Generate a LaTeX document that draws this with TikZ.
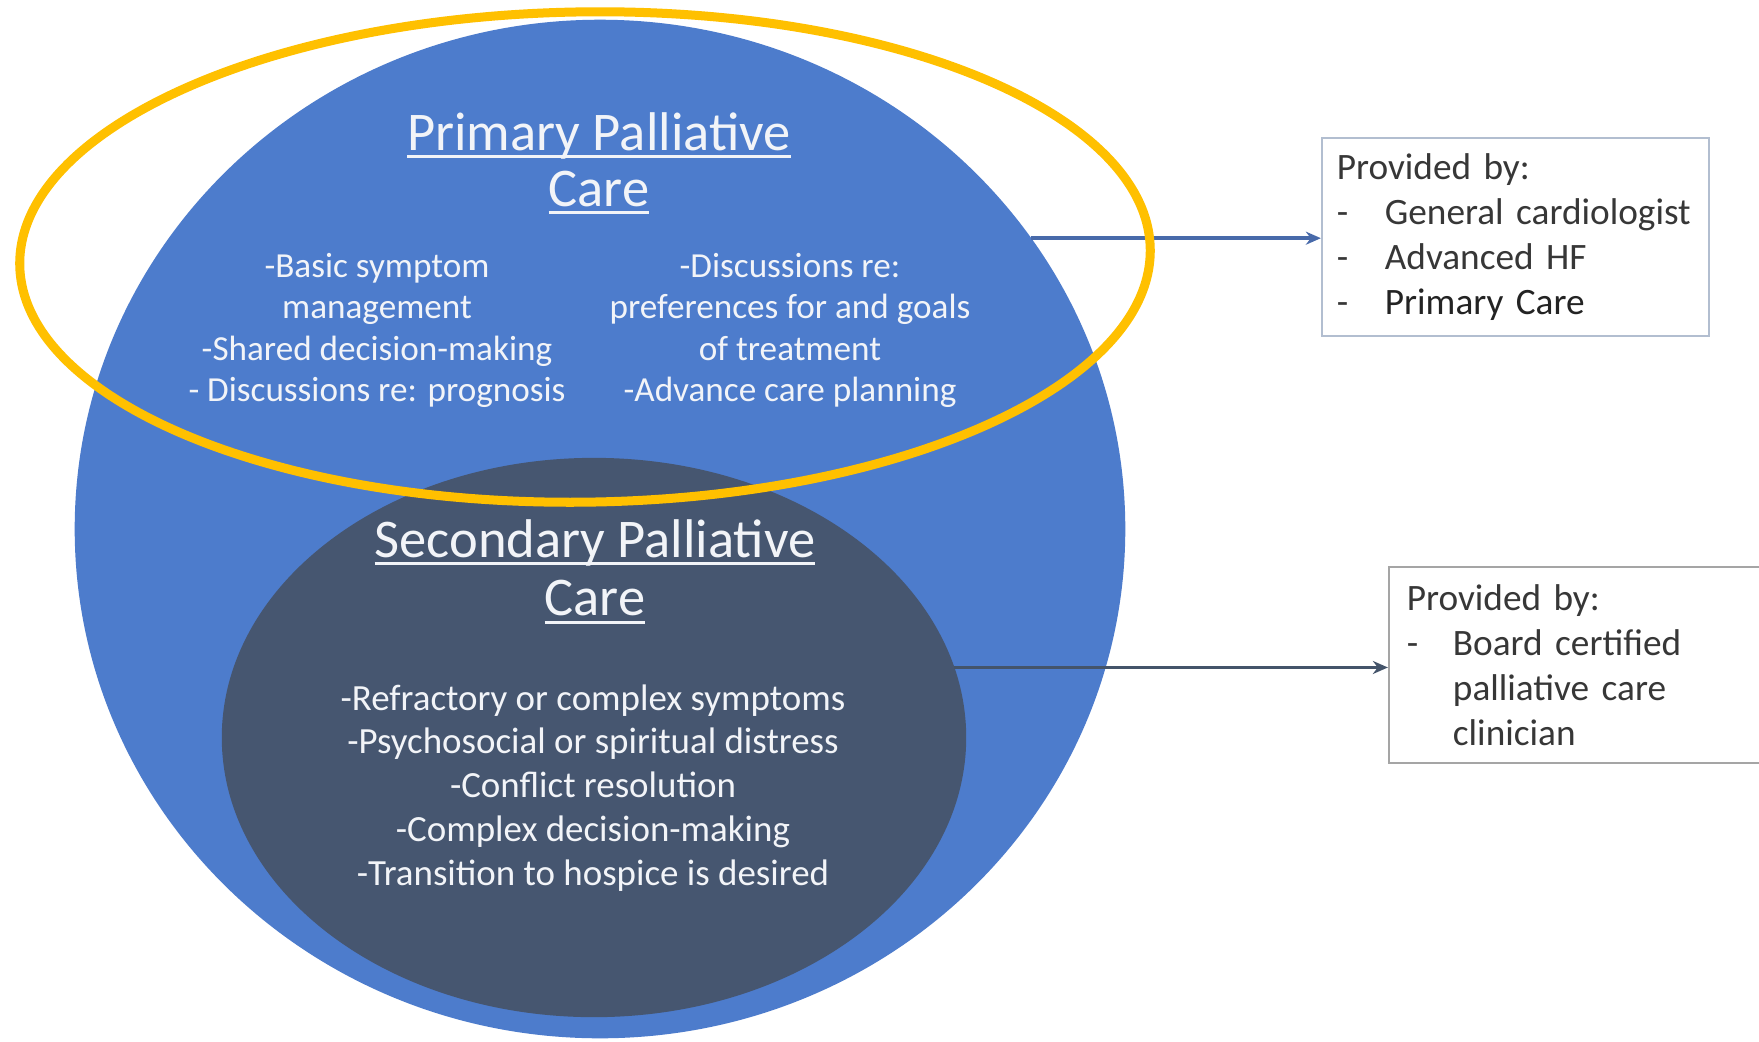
\documentclass[tikz,border=0pt]{standalone}
\usepackage{fontspec}
\setmainfont{Carlito}
\usetikzlibrary{shapes.geometric,arrows.meta}
\definecolor{outerblue}{RGB}{77,124,204}
\definecolor{innerslate}{RGB}{70,86,112}
\definecolor{markyellow}{RGB}{255,192,0}
\definecolor{arrowblue}{RGB}{72,106,170}
\definecolor{arrowslate}{RGB}{68,84,106}
\definecolor{boxedgeA}{RGB}{178,190,208}
\definecolor{boxedgeB}{RGB}{165,165,165}
\definecolor{boxtext}{RGB}{55,55,55}
\definecolor{boxtextdark}{RGB}{35,35,35}
\definecolor{lighttext}{RGB}{242,244,248}
\newcommand{\ulx}[1]{\setbox0=\hbox{#1}\rlap{\rule[-0.146em]{\wd0}{0.055em}}\box0}
\begin{document}
\begin{tikzpicture}[x=0.01cm,y=-0.01cm,
  blob/.style={ellipse,inner sep=0pt,outer sep=0pt},
  infobox/.style={draw,line width=0.02cm,rectangle,inner xsep=0.15cm,inner ysep=0pt,
    align=left,text=boxtext,font=\fontsize{10.6}{12.8}\selectfont},
  link/.style={line width=0.035cm,-{Stealth[length=0.15cm,width=0.13cm]}},
  lbl/.style={anchor=base,inner sep=0pt,text=lighttext}
]
\fill[white] (0,0) rectangle (1759,1041);
\useasboundingbox (0,0) rectangle (1759,1041);

\node[blob,fill=outerblue,minimum width=10.5cm,minimum height=10.18cm] (outer) at (600,529) {};
\node[blob,fill=innerslate,minimum width=7.44cm,minimum height=5.59cm] (inner) at (594,737.5) {};

\node[lbl,font=\fontsize{15.5}{16}\selectfont] (ptitle) at (599,150)
  {\begin{tabular}[t]{@{}c@{}}\ulx{Primary Palliative}\\\ulx{Care}\end{tabular}};
\node[lbl,font=\fontsize{10}{11.8}\selectfont] (pleft) at (377,277)
  {\begin{tabular}[t]{@{}c@{}}-Basic symptom\\management\\-Shared decision-making\\- Discussions re: prognosis\end{tabular}};
\node[lbl,font=\fontsize{10}{11.8}\selectfont] (pright) at (790,277)
  {\begin{tabular}[t]{@{}c@{}}-Discussions re:\\preferences for and goals\\of treatment\\-Advance care planning\end{tabular}};

\node[lbl,font=\fontsize{15.5}{16.7}\selectfont] (stitle) at (595,557)
  {\begin{tabular}[t]{@{}c@{}}\ulx{Secondary Palliative}\\\ulx{Care}\end{tabular}};
\node[lbl,font=\fontsize{10.5}{12.5}\selectfont] (sitems) at (593,710)
  {\begin{tabular}[t]{@{}c@{}}-Refractory or complex symptoms\\-Psychosocial or spiritual distress\\-Conflict resolution\\-Complex decision-making\\-Transition to hospice is desired\end{tabular}};

\node[infobox,draw=boxedgeA,minimum width=3.87cm,minimum height=1.98cm,text width=3.57cm] (box1) at (1515.5,237)
  {Provided by:\\\makebox[0.48cm][l]{-}General cardiologist\\\makebox[0.48cm][l]{-}Advanced HF\\\makebox[0.48cm][l]{-}{\color{boxtextdark}Primary Care}};
\node[infobox,draw=boxedgeB,inner xsep=0.18cm,minimum width=3.86cm,minimum height=1.96cm,text width=3.5cm] (box2) at (1582,665)
  {Provided by:\\\makebox[0.46cm][l]{-}Board certified\\\hspace*{0.46cm}palliative care\\\hspace*{0.46cm}clinician};

\draw[link,arrowblue] (outer.34.18) -- (outer.34.18 -| box1.west);
\draw[link,arrowslate] (inner.11.41) -- (inner.11.41 -| box2.west);

\node[blob,draw=markyellow,line width=0.09cm,minimum width=11.3cm,minimum height=4.9cm,rotate=0.8] (mark) at (585,257) {};
\end{tikzpicture}
\end{document}
